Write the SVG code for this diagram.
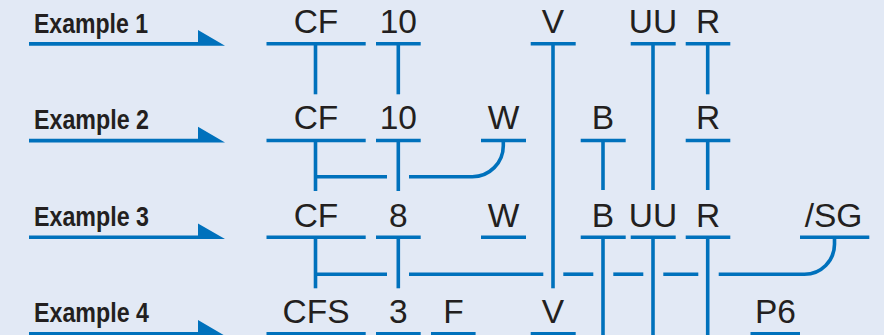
<svg xmlns="http://www.w3.org/2000/svg" width="884" height="335" viewBox="0 0 884 335">
<style>
.bg{fill:#e2e9f5}
.bar,.ln{stroke:#0071bc;stroke-width:3.6;fill:none;stroke-linecap:butt}
.t{font-family:"Liberation Sans",Arial,sans-serif;font-size:33.5px;fill:#231f20;text-anchor:middle}
.ex{font-family:"Liberation Sans",Arial,sans-serif;font-size:27.5px;font-weight:bold;fill:#231f20}
.arw{fill:#0071bc}
</style>
<defs>
<polygon id="arrow" class="arw" points="29,42 198,42 198,30 225,45.7 29,45.7"/>
</defs>
<rect class="bg" x="0" y="0" width="884" height="335"/>

<g id="example1"><text class="ex" x="34" y="32.5" textLength="114" lengthAdjust="spacingAndGlyphs">Example 1</text><use href="#arrow"/></g>
<g id="example2"><text class="ex" x="34" y="129" textLength="115" lengthAdjust="spacingAndGlyphs">Example 2</text><use href="#arrow" transform="translate(0,96.7)"/></g>
<g id="example3"><text class="ex" x="34" y="226" textLength="115" lengthAdjust="spacingAndGlyphs">Example 3</text><use href="#arrow" transform="translate(0,193.4)"/></g>
<g id="example4"><text class="ex" x="34" y="322" textLength="115" lengthAdjust="spacingAndGlyphs">Example 4</text><use href="#arrow" transform="translate(0,290.1)"/></g>

<!-- Row 1 -->
<g id="r1-CF"><line class="bar" x1="266.5" y1="43.8" x2="365.7" y2="43.8"/><text class="t" x="316" y="33">CF</text></g>
<g id="r1-10"><line class="bar" x1="376" y1="43.8" x2="420.7" y2="43.8"/><text class="t" x="398.3" y="33">10</text></g>
<g id="r1-V"><line class="bar" x1="530.7" y1="43.8" x2="575.7" y2="43.8"/><text class="t" x="553" y="33">V</text></g>
<g id="r1-UU"><line class="bar" x1="630.7" y1="43.8" x2="675.7" y2="43.8"/><text class="t" x="653" y="33">UU</text></g>
<g id="r1-R"><line class="bar" x1="685.7" y1="43.8" x2="730.3" y2="43.8"/><text class="t" x="708" y="33">R</text></g>

<!-- Row 2 -->
<g id="r2-CF"><line class="bar" x1="266.5" y1="140.5" x2="365.7" y2="140.5"/><text class="t" x="316" y="129.3">CF</text></g>
<g id="r2-10"><line class="bar" x1="376" y1="140.5" x2="420.7" y2="140.5"/><text class="t" x="398.3" y="129.3">10</text></g>
<g id="r2-W"><line class="bar" x1="481" y1="140.5" x2="526" y2="140.5"/><text class="t" x="503.5" y="129.3">W</text></g>
<g id="r2-B"><line class="bar" x1="580.7" y1="140.5" x2="625.7" y2="140.5"/><text class="t" x="603" y="129.3">B</text></g>
<g id="r2-R"><line class="bar" x1="685.7" y1="140.5" x2="730.3" y2="140.5"/><text class="t" x="708" y="129.3">R</text></g>

<!-- Row 3 -->
<g id="r3-CF"><line class="bar" x1="266.5" y1="237.2" x2="365.7" y2="237.2"/><text class="t" x="316" y="226.8">CF</text></g>
<g id="r3-8"><line class="bar" x1="376" y1="237.2" x2="420.7" y2="237.2"/><text class="t" x="398.3" y="226.8">8</text></g>
<g id="r3-W"><line class="bar" x1="481" y1="237.2" x2="526" y2="237.2"/><text class="t" x="503.5" y="226.8">W</text></g>
<g id="r3-B"><line class="bar" x1="580.7" y1="237.2" x2="625.7" y2="237.2"/><text class="t" x="603" y="226.8">B</text></g>
<g id="r3-UU"><line class="bar" x1="630.7" y1="237.2" x2="675.7" y2="237.2"/><text class="t" x="653" y="226.8">UU</text></g>
<g id="r3-R"><line class="bar" x1="685.7" y1="237.2" x2="730.3" y2="237.2"/><text class="t" x="708" y="226.8">R</text></g>
<g id="r3-SG"><line class="bar" x1="800" y1="237.2" x2="869.3" y2="237.2"/><text class="t" x="833.5" y="226.8">/SG</text></g>

<!-- Row 4 -->
<g id="r4-CFS"><line class="bar" x1="266.5" y1="333.9" x2="365.7" y2="333.9"/><text class="t" x="316" y="322.8">CFS</text></g>
<g id="r4-3"><line class="bar" x1="376" y1="333.9" x2="420.7" y2="333.9"/><text class="t" x="398.3" y="322.8">3</text></g>
<g id="r4-F"><line class="bar" x1="431" y1="333.9" x2="475.6" y2="333.9"/><text class="t" x="453.5" y="322.8">F</text></g>
<g id="r4-V"><line class="bar" x1="530.7" y1="333.9" x2="575.7" y2="333.9"/><text class="t" x="553" y="322.8">V</text></g>
<g id="r4-P6"><line class="bar" x1="750.5" y1="333.9" x2="800" y2="333.9"/><text class="t" x="775.5" y="322.8">P6</text></g>

<g id="connectors">
<line class="ln" x1="315.5" y1="43.8" x2="315.5" y2="94.3"/>
<line class="ln" x1="398.3" y1="43.8" x2="398.3" y2="94.3"/>
<line class="ln" x1="553" y1="43.8" x2="553" y2="288.3"/>
<line class="ln" x1="653" y1="43.8" x2="653" y2="190"/>
<line class="ln" x1="707.7" y1="43.8" x2="707.7" y2="94.3"/>
<line class="ln" x1="315.5" y1="140.5" x2="315.5" y2="191"/>
<line class="ln" x1="398.3" y1="140.5" x2="398.3" y2="191"/>
<line class="ln" x1="603" y1="140.5" x2="603" y2="190"/>
<line class="ln" x1="707.7" y1="140.5" x2="707.7" y2="190"/>
<line class="ln" x1="315.5" y1="176.7" x2="387" y2="176.7"/>
<path class="ln" d="M409,176.7 H472.3 A31,31 0 0 0 503.3,145.7 V140.5"/>
<line class="ln" x1="315.5" y1="237.2" x2="315.5" y2="288.3"/>
<line class="ln" x1="398.3" y1="237.2" x2="398.3" y2="288.3"/>
<line class="ln" x1="603" y1="237.2" x2="603" y2="336"/>
<line class="ln" x1="653" y1="237.2" x2="653" y2="336"/>
<line class="ln" x1="707.7" y1="237.2" x2="707.7" y2="336"/>
<line class="ln" x1="315.5" y1="274.2" x2="387" y2="274.2"/>
<line class="ln" x1="409" y1="274.2" x2="543.3" y2="274.2"/>
<line class="ln" x1="563.3" y1="274.2" x2="593.3" y2="274.2"/>
<line class="ln" x1="613.3" y1="274.2" x2="643.3" y2="274.2"/>
<line class="ln" x1="663.3" y1="274.2" x2="698.3" y2="274.2"/>
<path class="ln" d="M718.7,274.2 H804.5 A30,30 0 0 0 834.5,244.2 V237.2"/>
</g>
</svg>
